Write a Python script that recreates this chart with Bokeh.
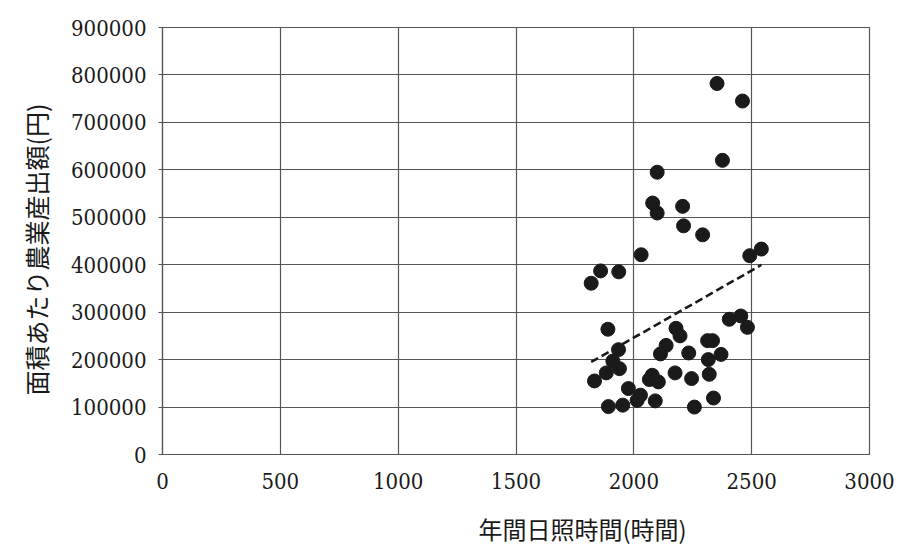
import numpy as np
from bokeh.plotting import figure
from bokeh.models import Range1d, SingleIntervalTicker, BasicTickFormatter, Title, ColumnDataSource
from bokeh.embed import file_html
from bokeh.resources import INLINE

# Annual sunshine hours vs. agricultural output per area (yen)
sunshine_hours = [
    2353, 2461, 2376, 2099, 2080, 2099, 2207, 2211, 2292, 2031,
    2492, 2541, 1859, 1936, 1819, 2405, 2454, 2482, 1890, 2179,
    2196, 2137, 2113, 1935, 2313, 2334, 2233, 2370, 2316, 1911,
    1939, 1883, 1833, 2078, 2066, 2104, 2175, 2245, 2320, 1977,
    2028, 2014, 2091, 1892, 1953, 2257, 2338,
]
output_per_area = [
    782000, 745000, 620000, 595000, 530000, 509000, 523000, 482000, 463000, 421000,
    419000, 433000, 387000, 385000, 361000, 285000, 292000, 268000, 264000, 266000,
    250000, 230000, 212000, 221000, 240000, 240000, 214000, 211000, 200000, 197000,
    181000, 172000, 155000, 167000, 158000, 153000, 172000, 160000, 169000, 139000,
    125000, 114000, 113000, 101000, 104000, 100000, 119000,
]

x_title = "年間日照時間(時間)"
y_title = "面積あたり農業産出額(円)"

NUM_FONT = "DejaVu Serif Condensed"
JP_FONT = "Noto Sans CJK JP"
GRID = "#555555"

p = figure(
    width=898, height=546,
    x_range=Range1d(0, 3000), y_range=Range1d(0, 900000),
    output_backend="svg", toolbar_location=None,
    min_border_left=162, min_border_right=29, min_border_top=27, min_border_bottom=92,
    background_fill_color="white", border_fill_color="white",
)
p.frame_width = 707
p.frame_height = 427

p.outline_line_color = GRID
p.outline_line_width = 1.2

p.xaxis.ticker = SingleIntervalTicker(interval=500)
p.yaxis.ticker = SingleIntervalTicker(interval=100000)
p.yaxis.formatter = BasicTickFormatter(use_scientific=False)

for ax in (p.xaxis, p.yaxis):
    ax.axis_line_color = GRID
    ax.axis_line_width = 1.2
    ax.major_tick_line_color = GRID
    ax.minor_tick_line_color = None
    ax.major_tick_in = 0
    ax.major_label_text_font = NUM_FONT
    ax.major_label_text_font_size = "22px"
    ax.major_label_text_color = "#1a1a1a"

p.xaxis.major_tick_out = 0
p.xaxis.major_label_standoff = 14
p.yaxis.major_tick_out = 4
p.yaxis.major_label_standoff = 12

p.xgrid.grid_line_color = GRID
p.ygrid.grid_line_color = GRID
p.xgrid.grid_line_width = 1.2
p.ygrid.grid_line_width = 1.2

src = ColumnDataSource(dict(x=sunshine_hours, y=output_per_area))
p.scatter("x", "y", source=src, size=14, fill_color="#1a1a1a", line_color="#1a1a1a")

# Linear least-squares trend line over the data's x span
xs = np.array(sunshine_hours, dtype=float)
ys = np.array(output_per_area, dtype=float)
slope, intercept = np.polyfit(xs, ys, 1)
tx = np.array([xs.min(), xs.max()])
p.line(tx, slope * tx + intercept, line_color="#1a1a1a", line_width=2.6, line_dash="8 4")

p.add_layout(Title(text=x_title, align="left", offset=316, standoff=34,
                   text_font=JP_FONT, text_font_size="24px", text_font_style="normal",
                   text_color="#1a1a1a"), "below")
p.add_layout(Title(text=y_title, align="left", offset=59, standoff=28,
                   text_font=JP_FONT, text_font_size="25px", text_font_style="normal",
                   text_color="#1a1a1a"), "left")

open("out.html", "w").write(file_html(p, INLINE))
